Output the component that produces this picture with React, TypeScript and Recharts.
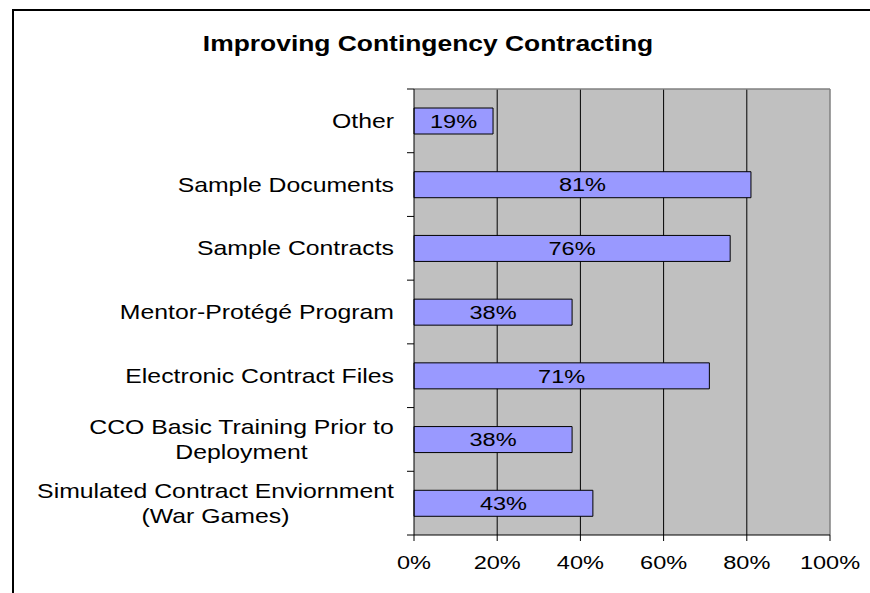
import React from "react";
import { BarChart, Bar, XAxis, YAxis, CartesianGrid, LabelList } from "recharts";

const title = "Improving Contingency Contracting";
const categories = [
  "Other",
  "Sample Documents",
  "Sample Contracts",
  "Mentor-Protégé Program",
  "Electronic Contract Files",
  "CCO Basic Training Prior to\nDeployment",
  "Simulated Contract Enviornment\n(War Games)",
];
const shares = [0.19, 0.81, 0.76, 0.38, 0.71, 0.38, 0.43];
const xTicks = [0, 0.2, 0.4, 0.6, 0.8, 1];

const data = categories.map((name, i) => ({ name, value: shares[i] }));

const W = 870;
const H = 593;
const M = { top: 89, right: 40, bottom: 18, left: 0 };
const X_AXIS_H = 40;
const Y_AXIS_W = 414;
// the source image is stretched sideways, so text is widened to match
const SX = 1.24;
const FONT = "'Liberation Sans', Arial, sans-serif";
const plotH = H - M.top - M.bottom - X_AXIS_H;
const band = plotH / categories.length;

const pct = (v: number) => `${Math.round(v * 100)}%`;

let ctx: CanvasRenderingContext2D | null = null;
const textWidth = (s: string, size: number) => {
  if (!ctx) ctx = document.createElement("canvas").getContext("2d");
  if (!ctx) return s.length * size * 0.5;
  ctx.font = `${size}px ${FONT}`;
  return ctx.measureText(s).width;
};

function CategoryTick({ x, y, payload, index }: any) {
  const size = 20;
  const lines = String(payload.value).split("\n");
  const maxW = Math.max(...lines.map((l) => textWidth(l, size)));
  const gap = 25;
  const first = -((lines.length - 1) * gap) / 2;
  return (
    <g>
      <line x1={x - 7} x2={x} y1={y - band / 2} y2={y - band / 2} stroke="#000" />
      {index === categories.length - 1 && (
        <line x1={x - 7} x2={x} y1={y + band / 2} y2={y + band / 2} stroke="#000" />
      )}
      <g transform={`translate(${x - 20},${y}) scale(${SX},1)`}>
        {lines.map((l, i) => (
          <text
            key={i}
            x={-maxW / 2}
            y={first + i * gap}
            dy="0.35em"
            textAnchor="middle"
            fontSize={size}
            fontFamily={FONT}
            fill="#000"
          >
            {l}
          </text>
        ))}
      </g>
    </g>
  );
}

function PctTick({ x, y, payload }: any) {
  return (
    <g transform={`translate(${x},${y}) scale(${SX},1)`}>
      <text dy={28} textAnchor="middle" fontSize={19} fontFamily={FONT} fill="#000">
        {pct(payload.value)}
      </text>
    </g>
  );
}

function BarValue({ x, y, width, height, value }: any) {
  return (
    <g transform={`translate(${x + width / 2},${y + height / 2}) scale(${SX},1)`}>
      <text dy="0.35em" textAnchor="middle" fontSize={19} fontFamily={FONT} fill="#000">
        {pct(value)}
      </text>
    </g>
  );
}

export default function App() {
  return (
    <div
      style={{
        position: "absolute",
        left: 0,
        top: 0,
        width: W,
        height: H,
        overflow: "hidden",
        background: "#fff",
      }}
    >
      <div
        style={{
          position: "absolute",
          left: 12,
          top: 9,
          width: 900,
          height: 700,
          borderLeft: "2px solid #000",
          borderTop: "2px solid #000",
        }}
      />
      <div
        style={{
          position: "absolute",
          left: 428,
          top: 33,
          whiteSpace: "nowrap",
          fontFamily: FONT,
          fontWeight: "bold",
          fontSize: 22,
          lineHeight: "22px",
          transform: "translateX(-50%) scaleX(1.2)",
        }}
      >
        {title}
      </div>
      <div style={{ position: "absolute", left: 0, top: 0 }}>
        <BarChart width={W} height={H} data={data} layout="vertical" margin={M}>
          <CartesianGrid
            fill="#C0C0C0"
            stroke="#000"
            horizontal={false}
            verticalCoordinatesGenerator={({ offset }: any) =>
              xTicks.slice(1, -1).map((t) => offset.left + offset.width * t)
            }
          />
          <CartesianGrid
            stroke="#808080"
            strokeWidth={1.5}
            horizontalCoordinatesGenerator={({ offset }: any) => [offset.top]}
            verticalCoordinatesGenerator={({ offset }: any) => [offset.left + offset.width]}
          />
          <XAxis
            type="number"
            domain={[0, 1]}
            ticks={xTicks}
            height={X_AXIS_H}
            axisLine={{ stroke: "#000" }}
            tickLine={{ stroke: "#000" }}
            tickSize={6}
            tickMargin={0}
            tick={<PctTick />}
          />
          <YAxis
            type="category"
            dataKey="name"
            width={Y_AXIS_W}
            axisLine={{ stroke: "#000" }}
            tickLine={false}
            tickSize={0}
            tickMargin={0}
            interval={0}
            tick={<CategoryTick />}
          />
          <Bar
            dataKey="value"
            fill="#9999FF"
            stroke="#000"
            strokeWidth={1}
            barSize={26}
            isAnimationActive={false}
          >
            <LabelList dataKey="value" content={<BarValue />} />
          </Bar>
        </BarChart>
      </div>
    </div>
  );
}
